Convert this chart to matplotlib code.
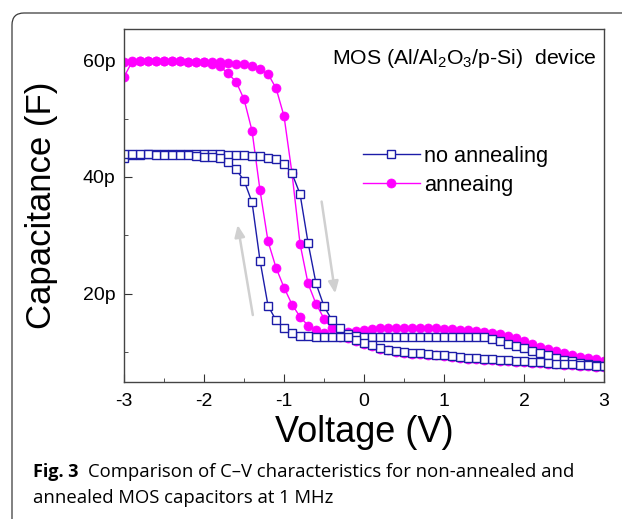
import numpy as np
import matplotlib
matplotlib.use("Agg")
import matplotlib.pyplot as plt
from matplotlib.patches import FancyBboxPatch
from matplotlib.transforms import IdentityTransform

plt.rcParams["font.family"] = ["Liberation Sans", "DejaVu Sans"]
plt.rcParams["mathtext.fontset"] = "custom"
plt.rcParams["mathtext.rm"] = "Liberation Sans"
plt.rcParams["mathtext.it"] = "Liberation Sans:italic"
plt.rcParams["axes.unicode_minus"] = False

# voltage sweep grid (V), 0.1 V steps
voltage = np.round(np.linspace(-3, 3, 61), 1)

# capacitance in pF, sweep -3 -> +3 (no annealing)
c_noanneal_fwd = [43.2, 43.8, 43.8, 43.9, 43.9, 43.9, 43.9, 43.9, 43.9, 43.9,
                  43.9, 43.85, 43.85, 43.8, 43.75, 43.75, 43.6, 43.6, 43.3, 43.0,
                  42.3, 40.6, 37.1, 28.8, 21.8, 17.9, 15.5, 14.2, 13.2, 12.8,
                  12.7, 12.7, 12.7, 12.7, 12.7, 12.7, 12.7, 12.7, 12.7, 12.7,
                  12.7, 12.7, 12.7, 12.7, 12.7, 12.6, 12.3, 11.9, 11.5, 11.1,
                  10.7, 10.3, 9.9, 9.5, 9.1, 8.75, 8.5, 8.25, 8.05, 7.85, 7.7]
# sweep +3 -> -3 (no annealing), listed for ascending voltage
c_noanneal_rev = [43.9, 43.9, 43.9, 43.9, 43.8, 43.8, 43.8, 43.75, 43.7, 43.6,
                  43.5, 43.4, 43.2, 42.6, 41.3, 39.4, 35.7, 25.7, 18.0, 15.5,
                  14.1, 13.3, 12.9, 12.75, 12.7, 12.7, 12.7, 12.7, 12.6, 12.2,
                  11.6, 11.2, 10.8, 10.5, 10.3, 10.1, 9.95, 9.9, 9.8, 9.65,
                  9.55, 9.4, 9.25, 9.1, 9.0, 8.9, 8.85, 8.75, 8.7, 8.6,
                  8.5, 8.4, 8.3, 8.2, 8.1, 8.0, 7.95, 7.85, 7.8, 7.7, 7.65]

# annealed sample
c_anneal_fwd = [57.1, 59.7, 59.8, 59.8, 59.8, 59.8, 59.8, 59.8, 59.7, 59.7,
                59.7, 59.6, 59.6, 59.5, 59.4, 59.3, 59.0, 58.4, 57.6, 55.2,
                50.4, 40.6, 28.6, 21.8, 18.3, 15.8, 14.1, 13.6, 13.5, 13.6,
                13.8, 14.0, 14.1, 14.2, 14.2, 14.2, 14.15, 14.1, 14.1, 14.1,
                14.05, 14.0, 13.9, 13.8, 13.7, 13.5, 13.3, 13.1, 12.8, 12.4,
                11.9, 11.4, 11.0, 10.6, 10.2, 9.85, 9.6, 9.3, 9.05, 8.8, 8.6]
c_anneal_rev = [59.7, 59.8, 59.8, 59.8, 59.8, 59.8, 59.8, 59.8, 59.7, 59.7,
                59.7, 59.4, 58.9, 57.7, 56.3, 53.3, 47.9, 37.7, 29.0, 24.5,
                21.1, 18.2, 16.1, 14.6, 13.8, 13.3, 12.9, 12.7, 12.4, 12.0,
                11.45, 11.05, 10.65, 10.35, 10.15, 9.95, 9.8, 9.75, 9.65, 9.5,
                9.4, 9.25, 9.1, 8.95, 8.85, 8.75, 8.7, 8.6, 8.55, 8.45,
                8.35, 8.25, 8.15, 8.05, 7.95, 7.85, 7.8, 7.7, 7.65, 7.55, 7.5]

labels = ["no annealing", "anneaing"]
blue = "#1c1ca8"
magenta = "#ff00ff"

# sweep direction arrows (data coords: tail, tip)
arrow_up = ((-1.39, 16.4), (-1.58, 31.8))
arrow_down = ((-0.53, 35.8), (-0.36, 20.1))

fig = plt.figure(figsize=(6.22, 5.19), dpi=100)
ax = fig.add_axes([0.1994, 0.2645, 0.7717, 0.6796])

loop_v = np.concatenate([voltage, voltage[::-1]])
loop_a = np.concatenate([c_anneal_fwd, c_anneal_rev[::-1]])
loop_n = np.concatenate([c_noanneal_fwd, c_noanneal_rev[::-1]])

l_a, = ax.plot(loop_v, loop_a, "-o", color=magenta, lw=1.0, ms=6.5,
               mfc=magenta, mec=magenta, mew=0.5, label=labels[1])
l_n, = ax.plot(loop_v, loop_n, "-s", color=blue, lw=1.0, ms=5.5,
               mfc="white", mec=blue, mew=1.0, label=labels[0])

for tail, tip in (arrow_up, arrow_down):
    ax.annotate("", xy=tip, xytext=tail,
                arrowprops=dict(arrowstyle="-|>,head_length=0.7,head_width=0.3",
                                color="#d0d0d0", lw=1.8, shrinkA=0, shrinkB=0))

ax.set_xlim(-3, 3)
ax.set_ylim(5, 65.3)
ax.set_xticks([-3, -2, -1, 0, 1, 2, 3])
ax.set_xticks([-2.5, -1.5, -0.5, 0.5, 1.5, 2.5], minor=True)
ax.set_yticks([20, 40, 60])
ax.set_yticklabels(["20p", "40p", "60p"])
ax.set_yticks([10, 30, 50], minor=True)
ax.tick_params(which="both", direction="in", labelsize=14, colors="#333333",
               labelcolor="black")
ax.tick_params(which="major", length=6)
ax.tick_params(which="minor", length=3)
ax.tick_params(axis="x", pad=8)
ax.tick_params(axis="y", pad=6)
for sp in ax.spines.values():
    sp.set_color("#444444")
    sp.set_linewidth(1.0)

ax.set_xlabel("Voltage (V)", fontsize=26, labelpad=4)
ax.set_ylabel("Capacitance (F)", fontsize=25, labelpad=18)

ax.text(0.985, 0.915, r"MOS (Al/Al$_2$O$_3$/p-Si)  device", transform=ax.transAxes,
        ha="right", va="center", fontsize=15.3)

ax.legend([l_n, l_a], labels, loc="upper left", bbox_to_anchor=(0.475, 0.70),
          frameon=False, fontsize=15.7, handlelength=2.6, handletextpad=0.2,
          labelspacing=0.38, borderpad=0)

# card border around figure
fig.add_artist(FancyBboxPatch((12, -30), 660, 519 - 13 + 30,
                              boxstyle="round,pad=0,rounding_size=12",
                              transform=IdentityTransform(), fill=False,
                              edgecolor="#3a3a3a", lw=0.9))

# caption
cap_font = ["Open Sans", "DejaVu Sans"]
t1 = fig.text(33 / 622, 1 - 477 / 519, "Fig. 3", family=cap_font, weight="bold",
              fontsize=13, va="baseline")
fig.canvas.draw()
bb = t1.get_window_extent()
fig.text((bb.x1 + 9) / 622, 1 - 477 / 519,
         "Comparison of C\u2013V characteristics for non-annealed and",
         family=cap_font, fontsize=13.3, va="baseline")
fig.text(33 / 622, 1 - 503 / 519, "annealed MOS capacitors at 1 MHz",
         family=cap_font, fontsize=13.3, va="baseline")

fig.savefig("out.png", dpi=100)
